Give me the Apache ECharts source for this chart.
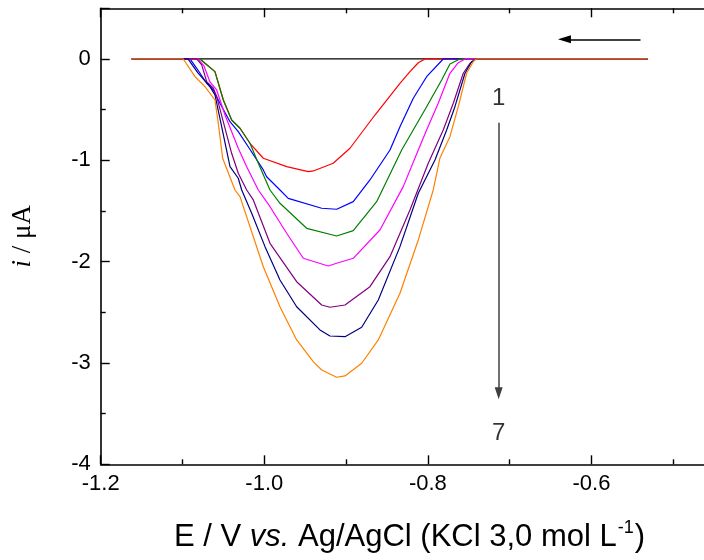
<!DOCTYPE html>
<html><head><meta charset="utf-8">
<script src="https://cdn.jsdelivr.net/npm/echarts@6/dist/echarts.min.js"></script>
<style>html,body{margin:0;padding:0;background:#fff}#c{width:704px;height:560px}</style>
</head><body><div id="c"></div>
<script>
// E (V) vs i (uA)
const curve1 = [[-1.162,0],[-1.0786,0],[-1.0725,-0.042],[-1.0603,-0.125],[-1.0501,-0.405],[-1.0399,-0.602],[-1.0297,-0.684],[-1.0175,-0.832],[-1.0012,-0.98],[-0.9726,-1.063],[-0.9462,-1.112],[-0.9401,-1.105],[-0.9157,-1.029],[-0.8952,-0.881],[-0.8647,-0.553],[-0.8341,-0.24],[-0.8219,-0.125],[-0.8117,-0.037],[-0.8035,0],[-0.531,0]];
const curve2 = [[-1.162,0],[-1.0908,0],[-1.0826,-0.092],[-1.0704,-0.24],[-1.0623,-0.306],[-1.0542,-0.437],[-1.0419,-0.619],[-1.0318,-0.717],[-1.0196,-0.866],[-1.0012,-1.095],[-0.9971,-1.162],[-0.9808,-1.293],[-0.9707,-1.375],[-0.9298,-1.473],[-0.9115,-1.483],[-0.8912,-1.408],[-0.8708,-1.194],[-0.8463,-0.898],[-0.8341,-0.668],[-0.8178,-0.388],[-0.8015,-0.175],[-0.7812,0],[-0.531,0]];
const curve3 = [[-1.162,0],[-1.0786,0],[-1.0725,-0.042],[-1.0603,-0.125],[-1.0501,-0.405],[-1.0399,-0.602],[-1.0297,-0.684],[-1.0175,-0.832],[-1.0073,-1.029],[-0.993,-1.293],[-0.9808,-1.424],[-0.9482,-1.671],[-0.9115,-1.747],[-0.8912,-1.694],[-0.8626,-1.408],[-0.832,-0.898],[-0.8015,-0.471],[-0.7831,-0.207],[-0.773,-0.049],[-0.7608,0],[-0.531,0]];
const curve4 = [[-1.162,0],[-1.0811,0],[-1.0737,-0.069],[-1.0664,-0.227],[-1.0582,-0.306],[-1.048,-0.553],[-1.0318,-0.881],[-1.0215,-1.063],[-1.0073,-1.293],[-0.993,-1.458],[-0.9726,-1.72],[-0.9523,-1.967],[-0.9218,-2.043],[-0.9115,-2.016],[-0.8912,-1.967],[-0.8586,-1.688],[-0.8301,-1.26],[-0.8117,-0.898],[-0.8015,-0.701],[-0.7873,-0.437],[-0.773,-0.141],[-0.7628,-0.037],[-0.7546,0],[-0.531,0]];
const curve5 = [[-1.162,0],[-1.0826,0],[-1.0765,-0.059],[-1.0704,-0.224],[-1.0623,-0.289],[-1.0582,-0.372],[-1.0399,-0.931],[-1.0318,-1.128],[-1.0215,-1.293],[-1.0134,-1.391],[-0.993,-1.819],[-0.9604,-2.198],[-0.9298,-2.428],[-0.9197,-2.45],[-0.9013,-2.428],[-0.8708,-2.247],[-0.8463,-1.951],[-0.8219,-1.49],[-0.7995,-1.029],[-0.7812,-0.701],[-0.7689,-0.437],[-0.7567,-0.141],[-0.7485,-0.042],[-0.7412,0],[-0.531,0]];
const curve6 = [[-1.162,0],[-1.0933,0],[-1.0811,-0.138],[-1.0664,-0.273],[-1.0603,-0.355],[-1.0521,-0.668],[-1.0419,-1.063],[-1.0318,-1.177],[-1.0276,-1.293],[-1.0154,-1.523],[-0.9991,-1.852],[-0.9808,-2.181],[-0.9604,-2.445],[-0.9319,-2.674],[-0.9197,-2.734],[-0.9013,-2.741],[-0.8809,-2.648],[-0.8606,-2.378],[-0.8341,-1.852],[-0.8117,-1.325],[-0.7913,-0.997],[-0.777,-0.701],[-0.7669,-0.471],[-0.7546,-0.141],[-0.7465,-0.027],[-0.7412,0],[-0.531,0]];
const curve7 = [[-1.162,0],[-1.099,0],[-1.0847,-0.175],[-1.0725,-0.273],[-1.0603,-0.405],[-1.0562,-0.635],[-1.0509,-0.98],[-1.0358,-1.293],[-1.0297,-1.359],[-1.0012,-2.05],[-0.9808,-2.445],[-0.9604,-2.773],[-0.9401,-2.987],[-0.9298,-3.069],[-0.9115,-3.141],[-0.9013,-3.128],[-0.8809,-3.003],[-0.8606,-2.773],[-0.8341,-2.312],[-0.8117,-1.786],[-0.7934,-1.293],[-0.7852,-0.977],[-0.773,-0.767],[-0.7628,-0.471],[-0.7526,-0.141],[-0.7445,-0.027],[-0.7412,0],[-0.531,0]];
const baseline = [[-1.162,0],[-0.531,0]];
const curveNames = ['1','2','3','4','5','6','7'];
const curveColors = ['#ff0000','#0000ff','#008000','#ff00ff','#800080','#000080','#ff8000'];
const xTickLabels = ['-1.2','-1.0','-0.8','-0.6','-0.4'];
const yTickLabels = ['-4','-3','-2','-1','0'];
const scanArrow = [[-0.54,0.194],[-0.633,0.194]];
const orderArrow = [[-0.7134,-0.63],[-0.7134,-3.30]];
const orderLabelPos = [[-0.7134,-0.385],[-0.7134,-3.69]];
const orderLabelText = ['1','7'];

const curves = [curve1,curve2,curve3,curve4,curve5,curve6,curve7];
const font = 'Liberation Sans, Arial, sans-serif';
const chart = echarts.init(document.getElementById('c'), null, {renderer:'canvas'});

const series = [{
  type:'line', data: baseline, symbol:'none', silent:true, z:1,
  lineStyle:{color:'#000', width:1.2},
  markLine:{
    silent:true, animation:false, label:{show:false},
    symbol:['none','triangle'], symbolSize:10,
    lineStyle:{color:'#000', type:'solid', width:1.5},
    data:[
      [{coord:scanArrow[0], symbol:'none'},{coord:scanArrow[1], symbol:'triangle', symbolSize:[8,13], itemStyle:{color:'#000'}}],
      [{coord:orderArrow[0], symbol:'none', lineStyle:{color:'#404040'}},{coord:orderArrow[1], symbol:'triangle', symbolSize:[8,12], itemStyle:{color:'#303030'}, lineStyle:{color:'#404040'}}]
    ]
  }
}];
curves.forEach((d,k)=>series.push({
  type:'line', name:curveNames[k], data:d, symbol:'none', z:2+k,
  lineStyle:{color:curveColors[k], width:1.2}, itemStyle:{color:curveColors[k]}
}));
series.push({
  type:'scatter', data: orderLabelPos, symbolSize:0, z:20, silent:true,
  label:{show:true, position:'inside', formatter:p=>orderLabelText[p.dataIndex], color:'#000', fontSize:24, fontWeight:'normal', fontFamily:font}
});

const fmtX = v => { const s = v.toFixed(1); return xTickLabels.includes(s) ? s : ''; };
const fmtY = v => { const s = String(Math.round(v)); return (Math.abs(v-Math.round(v))<1e-6 && yTickLabels.includes(s)) ? s : ''; };

chart.setOption({
  animation:false,
  backgroundColor:'#fff',
  grid:{left:100.7, top:8.3, right:-51, bottom:95.7, outerBoundsMode:'none', containLabel:false},
  title:{
    left:169, top:514,
    text:'{n|E / V }{i|vs.}{n| Ag/AgCl (KCl 3,0 mol L}{s|-1}{n|)}',
    textStyle:{fontWeight:'normal', rich:{
      n:{fontFamily:font, fontSize:31, fontWeight:'normal', color:'#000'},
      i:{fontFamily:font, fontSize:31, fontWeight:'normal', fontStyle:'italic', color:'#000'},
      s:{fontFamily:font, fontSize:18, fontWeight:'normal', color:'#000', padding:[0,1,18,1]}
    }}
  },
  xAxis:[{
    type:'value', min:-1.2, max:-0.4, interval:0.2, position:'bottom',
    axisLine:{show:true, onZero:false, lineStyle:{color:'#000', width:1.6}},
    axisTick:{show:true, inside:true, length:9, lineStyle:{color:'#000', width:1.4}},
    minorTick:{show:true, splitNumber:2, length:5, lineStyle:{color:'#000', width:1.4}},
    splitLine:{show:false},
    axisLabel:{fontFamily:font, fontSize:22, color:'#000', margin:9, formatter:fmtX}
  },{
    type:'value', min:-1.2, max:-0.4, interval:0.2, position:'top',
    axisLine:{show:true, onZero:false, lineStyle:{color:'#000', width:1.6}},
    axisTick:{show:true, inside:true, length:9, lineStyle:{color:'#000', width:1.4}},
    minorTick:{show:true, splitNumber:2, length:5, lineStyle:{color:'#000', width:1.4}},
    splitLine:{show:false}, axisLabel:{show:false}
  }],
  yAxis:{
    type:'value', min:-4, max:0.5, interval:1,
    axisLine:{show:true, onZero:false, lineStyle:{color:'#000', width:1.6}},
    axisTick:{show:true, inside:true, length:9, lineStyle:{color:'#000', width:1.4}},
    minorTick:{show:true, splitNumber:2, length:5, lineStyle:{color:'#000', width:1.4}},
    splitLine:{show:false},
    axisLabel:{fontFamily:font, fontSize:22, color:'#000', margin:10, formatter:fmtY, showMaxLabel:false},
    name:'{i|i}{n| / μA}', nameLocation:'middle', nameRotate:90, nameGap:64,
    nameTextStyle:{rich:{
      i:{fontFamily:'Liberation Serif, serif', fontStyle:'italic', fontSize:27, color:'#000'},
      n:{fontFamily:'Liberation Serif, serif', fontSize:27, color:'#000'}
    }}
  },
  series
});
</script></body></html>
